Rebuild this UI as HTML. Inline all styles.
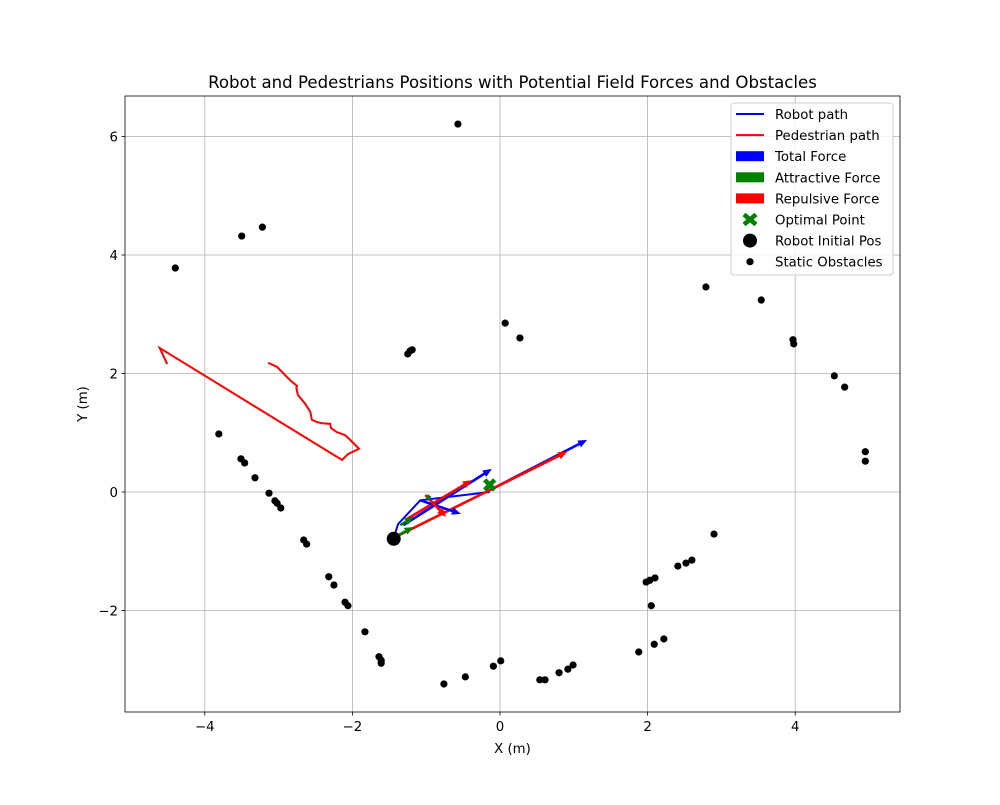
<!DOCTYPE html>
<html><head><meta charset="utf-8"><style>
body{margin:0;background:#fff;}
svg text{font-family:"DejaVu Sans","Liberation Sans",sans-serif;}
</style></head><body>
<svg id="chart" width="1000" height="800" xmlns="http://www.w3.org/2000/svg"></svg>
<script>
const xTicks=[-4,-2,0,2,4];
const yTicks=[-2,0,2,4,6];
const robotPathX=[-1.45,-1.38,-1.08,-0.14];
const robotPathY=[-0.81,-0.54,-0.14,0.0];
const pedPathX=[-3.14,-3.02,-2.91,-2.82,-2.75,-2.76,-2.74,-2.64,-2.57,-2.55,-2.48,-2.41,-2.30,-2.29,-2.21,-2.10,-2.03,-1.91,-2.06,-2.14,-4.61,-4.51];
const pedPathY=[2.18,2.11,1.97,1.86,1.79,1.76,1.64,1.49,1.35,1.22,1.18,1.16,1.15,1.08,1.01,0.96,0.88,0.73,0.64,0.54,2.43,2.16];
const obsX=[-0.57,-3.50,-3.22,-4.40,0.07,0.27,-1.25,-1.22,-1.19,-3.81,-3.51,-3.46,-3.32,-3.13,-3.05,-3.02,-2.97,-2.66,-2.62,-2.32,-2.25,-2.10,-2.06,-1.83,-1.64,-1.61,-1.61,-0.76,-0.47,-0.09,0.01,0.54,0.61,0.80,0.92,0.99,1.88,2.09,2.22,2.05,1.98,2.03,2.10,2.41,2.52,2.60,2.90,2.79,3.54,3.97,3.98,4.53,4.67,4.95,4.95];
const obsY=[6.21,4.32,4.47,3.78,2.85,2.60,2.33,2.38,2.40,0.98,0.56,0.49,0.24,-0.02,-0.15,-0.19,-0.27,-0.81,-0.88,-1.43,-1.57,-1.86,-1.92,-2.36,-2.78,-2.84,-2.89,-3.24,-3.12,-2.94,-2.85,-3.17,-3.17,-3.05,-2.99,-2.92,-2.70,-2.57,-2.48,-1.92,-1.52,-1.49,-1.45,-1.25,-1.20,-1.15,-0.71,3.46,3.24,2.57,2.50,1.96,1.77,0.68,0.52];
const arrowX=[-0.14,-1.42,-1.31,-1.28,-1.08,-1.01,-1.35,-1.38,-1.0];
const arrowY=[0.03,-0.76,-0.56,-0.47,-0.14,-0.05,-0.56,-0.73,-0.1];
const arrowU=[1.32,2.33,1.20,0.90,0.55,0.28,0.18,0.21,0.07];
const arrowV=[0.85,1.44,0.95,0.67,-0.23,-0.37,0.14,0.14,0.02];
const arrowKind=['total','repulsive','total','repulsive','total','repulsive','attractive','attractive','attractive'];
const optimalPoint=[-0.14,0.12];
const robotInit=[-1.44,-0.79];

const L=125,R=900,T=96,B=712;
const sx=v=>500+v*73.8;
const sy=v=>492-v*59.25;
const svg=document.getElementById('chart');
const NS='http://www.w3.org/2000/svg';
function mk(tag,attrs,parent){const e=document.createElementNS(NS,tag);for(const k in attrs)e.setAttribute(k,attrs[k]);(parent||svg).appendChild(e);return e;}
function txt(s,attrs){const e=mk('text',attrs);e.textContent=s;return e;}

xTicks.forEach(v=>{const x=sx(v);
 const g=mk('line',{x1:x,x2:x,y1:T,y2:B,stroke:'#b0b0b0','stroke-width':0.8});
 
 mk('line',{x1:x,x2:x,y1:B,y2:B+3.5,stroke:'#000','stroke-width':0.8});
 const t=txt(String(v).replace('-','\u2212'),{x:x,y:B+19,'font-size':13.3,'text-anchor':'middle'});
 });
yTicks.forEach(v=>{const y=sy(v);
 const g=mk('line',{x1:L,x2:R,y1:y,y2:y,stroke:'#b0b0b0','stroke-width':0.8});
 
 mk('line',{x1:L-3.5,x2:L,y1:y,y2:y,stroke:'#000','stroke-width':0.8});
 const t=txt(String(v).replace('-','\u2212'),{x:L-7,y:y+5,'font-size':13.3,'text-anchor':'end'});
 });

obsX.forEach((v,i)=>{const c=mk('circle',{cx:sx(v),cy:sy(obsY[i]),r:3.6,fill:'#000'});
 });

const rp=mk('polyline',{points:robotPathX.map((v,i)=>sx(v)+','+sy(robotPathY[i])).join(' '),fill:'none',stroke:'#0000ff','stroke-width':2});

const pp=mk('polyline',{points:pedPathX.map((v,i)=>sx(v)+','+sy(pedPathY[i])).join(' '),fill:'none',stroke:'#ff0000','stroke-width':2});


const colors={total:'#0000ff',repulsive:'#ff0000',attractive:'#008000'};
arrowX.forEach((v,i)=>{
 const x1=sx(v),y1=sy(arrowY[i]),x2=sx(v+arrowU[i]),y2=sy(arrowY[i]+arrowV[i]);
 const dx=x2-x1,dy=y2-y1,len=Math.hypot(dx,dy),ux=dx/len,uy=dy/len,nx=-uy,ny=ux;
 const hl=Math.min(9,len*0.6),hw=3.8,w=1.3;
 const bx=x2-ux*hl,by=y2-uy*hl;
 const pts=[[x1+nx*w,y1+ny*w],[bx+nx*w,by+ny*w],[bx+nx*hw,by+ny*hw],[x2,y2],[bx-nx*hw,by-ny*hw],[bx-nx*w,by-ny*w],[x1-nx*w,y1-ny*w]];
 const a=mk('polygon',{points:pts.map(p=>p.join(',')).join(' '),fill:colors[arrowKind[i]]});
 
 
});

function xMarker(cx,cy,s){
 return mk('path',{d:`M${cx-s},${cy-s}L${cx+s},${cy+s}M${cx+s},${cy-s}L${cx-s},${cy+s}`,stroke:'#008000','stroke-width':4.5});}
const op=xMarker(sx(optimalPoint[0]),sy(optimalPoint[1]),5);

const ri=mk('circle',{cx:sx(robotInit[0]),cy:sy(robotInit[1]),r:7,fill:'#000'});


mk('rect',{x:L,y:T,width:R-L,height:B-T,fill:'none',stroke:'#000','stroke-width':0.8});

const tt=txt('Robot and Pedestrians Positions with Potential Field Forces and Obstacles',{x:512.5,y:88,'font-size':16.6,'text-anchor':'middle'});

const xl=txt('X (m)',{x:512.5,y:753,'font-size':13.3,'text-anchor':'middle'});

const yl=txt('Y (m)',{x:0,y:0,'font-size':13.3,'text-anchor':'middle',transform:'translate(87,404) rotate(-90)'});


const lg=mk('g',{});

mk('rect',{x:731,y:103,width:162,height:172,rx:3,fill:'#fff','fill-opacity':0.8,stroke:'#ccc'},lg);
const labels=['Robot path','Pedestrian path','Total Force','Attractive Force','Repulsive Force','Optimal Point','Robot Initial Pos','Static Obstacles'];
labels.forEach((s,i)=>{
 const y=114+i*21.1;
 if(i<2){mk('line',{x1:736,x2:764,y1:y,y2:y,stroke:i==0?'#0000ff':'#ff0000','stroke-width':2},lg);}
 else if(i<5){mk('rect',{x:736,y:y-5,width:28,height:10,fill:['#0000ff','#008000','#ff0000'][i-2]},lg);}
 else if(i==5){mk('path',{d:`M${744},${y-5}L${756},${y+5}M${756},${y-5}L${744},${y+5}`,stroke:'#008000','stroke-width':4.5},lg);}
 else if(i==6){mk('circle',{cx:750,cy:y,r:7,fill:'#000'},lg);}
 else {mk('circle',{cx:750,cy:y,r:3.6,fill:'#000'},lg);}
 const t=mk('text',{x:775,y:y+5,'font-size':13.3},lg);t.textContent=s;
 
});
</script>
</body></html>
